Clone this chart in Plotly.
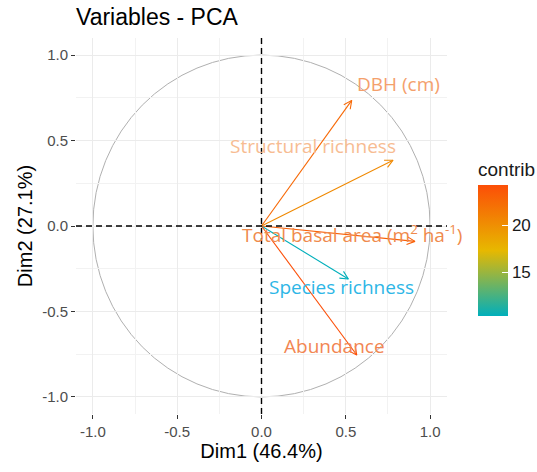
import numpy as np
import plotly.graph_objects as go
from plotly.colors import sample_colorscale

# ---- data ----
variables = ["DBH (cm)", "Structural richness",
             "Total basal area (m<sup>2</sup> ha<sup>-1</sup>)",
             "Species richness", "Abundance"]
dim1 = [0.535, 0.78, 0.91, 0.515, 0.565]
dim2 = [0.735, 0.385, -0.09, -0.31, -0.755]
contrib = [22.6, 20.4, 23.2, 10.3, 24.3]
dim1_pct = 46.4
dim2_pct = 27.1
tick_vals = [-1.0, -0.5, 0.0, 0.5, 1.0]
tick_text = ["-1.0", "-0.5", "0.0", "0.5", "1.0"]

# ---- styles ----
colorscale = [[0.0, "#00AFBB"], [0.5, "#E7B800"], [1.0, "#FC4E07"]]
label_dx = [0.278, -0.473, -0.375, -0.043, -0.13]
label_dy = [0.097, 0.082, 0.043, -0.047, 0.053]
label_colors = ["#F4A06C", "#F7BC92", "#EF8A4C", "#2DB6E6", "#F28652"]

W, H = 537, 472
ml, mr, mt, mb = 76, 90, 38, 58
xr = [-1.1, 1.1]
yr = [-1.1, 1.1]
sx = (W - ml - mr) / (xr[1] - xr[0])
sy = (H - mt - mb) / (yr[1] - yr[0])

cmin, cmax = min(contrib), max(contrib)
norm = [(c - cmin) / (cmax - cmin) for c in contrib]
arrow_cols = sample_colorscale(colorscale, norm)

fig = go.Figure()

head_len = 9.0
head_ang = np.deg2rad(26)
for x, y, col in zip(dim1, dim2, arrow_cols):
    th = np.arctan2(y * sy, x * sx)
    wings = []
    for s in (1, -1):
        a = th + s * head_ang
        wings.append((x - head_len * np.cos(a) / sx, y - head_len * np.sin(a) / sy))
    xs = [0, x, None, wings[0][0], x, wings[1][0]]
    ys = [0, y, None, wings[0][1], y, wings[1][1]]
    fig.add_trace(go.Scatter(x=xs, y=ys, mode="lines",
                             line=dict(color=col, width=1.1),
                             hoverinfo="skip", showlegend=False))

# colorbar carrier
fig.add_trace(go.Scatter(
    x=dim1, y=dim2, mode="markers",
    marker=dict(size=0.1, opacity=0, color=contrib, colorscale=colorscale,
                cmin=cmin, cmax=cmax, showscale=True,
                colorbar=dict(title=dict(text="contrib", side="top",
                                         font=dict(size=19, color="#1A1A1A",
                                                   family="Liberation Sans")),
                              thickness=30, len=157, lenmode="pixels",
                              xref="container", x=478 / W, xanchor="left",
                              y=0.469, yanchor="middle", xpad=0, ypad=0,
                              outlinewidth=0, ticks="inside", ticklen=6,
                              tickcolor="white", tickvals=[15, 20],
                              tickfont=dict(size=17, color="#1A1A1A",
                                            family="Liberation Sans"))),
    hoverinfo="skip", showlegend=False))

for x, y, name, dx, dy, lc in zip(dim1, dim2, variables, label_dx, label_dy, label_colors):
    fig.add_annotation(x=x + dx, y=y + dy, text=name, showarrow=False,
                       font=dict(size=19, color=lc, family="Open Sans"),
                       xanchor="center", yanchor="middle")

fig.add_shape(type="circle", x0=-1, y0=-1, x1=1, y1=1,
              line=dict(color="#B0B0B0", width=1), layer="below")
fig.add_shape(type="line", x0=0, x1=0, y0=0, y1=1, xref="x", yref="paper",
              line=dict(color="black", width=1.4, dash="6px,4px"), layer="above")
fig.add_shape(type="line", x0=0, x1=1, y0=0, y1=0, xref="paper", yref="y",
              line=dict(color="black", width=1.4, dash="6px,4px"), layer="above")

axis_common = dict(
    tickvals=tick_vals, ticktext=tick_text, showgrid=True, gridcolor="#EBEBEB",
    gridwidth=1, zeroline=False, showline=False, ticks="outside", ticklen=4,
    tickcolor="#333333", tickwidth=1,
    tickfont=dict(size=15, color="#4D4D4D", family="Liberation Sans"),
    minor=dict(dtick=0.25, tick0=0, showgrid=True, gridcolor="#F2F2F2", ticks=""),
)

fig.update_layout(
    width=W, height=H,
    margin=dict(l=ml, r=mr, t=mt, b=mb),
    paper_bgcolor="white", plot_bgcolor="white",
    title=dict(text="Variables - PCA", x=76 / W, xanchor="left",
               y=1 - 17 / H, yanchor="middle", xref="container", yref="container",
               font=dict(size=23, color="black", family="Liberation Sans")),
    xaxis=dict(range=xr, title=dict(text=f"Dim1 ({dim1_pct}%)", standoff=4,
               font=dict(size=20, color="black", family="Liberation Sans")),
               **axis_common),
    yaxis=dict(range=yr, title=dict(text=f"Dim2 ({dim2_pct}%)", standoff=4,
               font=dict(size=20, color="black", family="Liberation Sans")),
               **axis_common),
)

fig.write_html("out.html")
